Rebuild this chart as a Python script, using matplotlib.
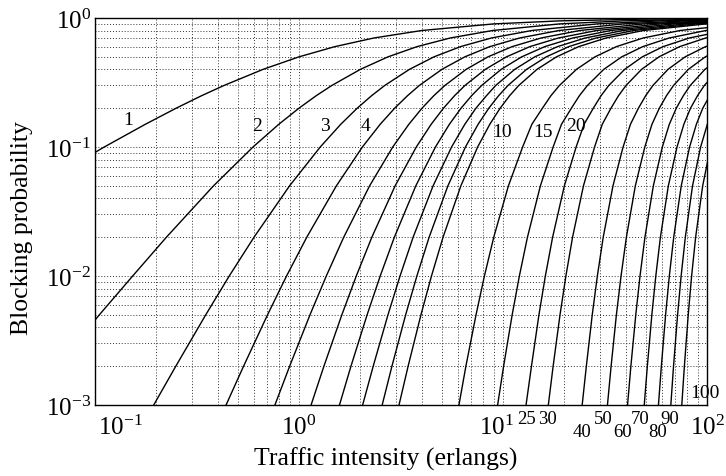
import matplotlib
matplotlib.use('Agg')
import matplotlib.pyplot as plt
import matplotlib.transforms as mtransforms
from matplotlib.ticker import NullFormatter

# Erlang-B chart: number of servers per curve
SERVERS = [1, 2, 3, 4, 5, 6, 7, 8, 9, 10, 15, 20, 25, 30, 40, 50, 60, 70, 80, 90, 100]

# blocking levels at which the traffic of each curve was read
BLOCKING = [0.001, 0.002, 0.005, 0.01, 0.02, 0.05, 0.1, 0.15, 0.2, 0.25, 0.3,
            0.4, 0.5, 0.6, 0.7, 0.8, 0.9, 0.95, 0.98, 0.99, 0.995]

# traffic intensity (erlangs) of each curve at the blocking levels above
TRAFFIC = [
    [0.001, 0.002, 0.00503, 0.0101, 0.0204, 0.0526, 0.111, 0.1765, 0.25, 0.3333,
     0.429, 0.667, 1.0, 1.5, 2.33, 4.0, 9.0, 19.0, 49.0, 99.0, 199.0],
    [0.0458, 0.0654, 0.105, 0.153, 0.224, 0.381, 0.595, 0.796, 1.0, 1.215,
     1.449, 2.0, 2.732, 3.791, 5.513, 8.899, 18.95, 38.97, 98.0, 199.0],
    [0.194, 0.249, 0.349, 0.455, 0.602, 0.899, 1.271, 1.602, 1.930, 2.27,
     2.633, 3.48, 4.59, 6.19, 8.78, 13.86, 28.9, 58.95, 149.0],
    [0.439, 0.535, 0.701, 0.869, 1.092, 1.525, 2.045, 2.50, 2.945, 3.405,
     3.89, 5.02, 6.50, 8.62, 12.07, 18.82, 38.9, 78.9, 199.0],
    [0.762, 0.900, 1.132, 1.361, 1.657, 2.219, 2.881, 3.455, 4.010, 4.582,
     5.19, 6.60, 8.44, 11.09, 15.38, 23.81, 48.91, 98.95, 248.0],
    [1.146, 1.325, 1.622, 1.909, 2.276, 2.960, 3.758, 4.445, 5.109, 5.79,
     6.51, 8.19, 10.4, 13.55, 18.7, 28.81, 58.91, 118.95],
    [1.579, 1.798, 2.157, 2.501, 2.935, 3.738, 4.666, 5.46, 6.230, 7.018,
     7.86, 9.80, 12.35, 16.03, 22.0, 33.81, 68.91, 138.9],
    [2.051, 2.311, 2.730, 3.128, 3.627, 4.543, 5.597, 6.498, 7.369, 8.30,
     9.21, 11.42, 14.32, 18.5, 25.3, 38.80, 78.91, 158.9],
    [2.557, 2.855, 3.333, 3.783, 4.345, 5.370, 6.546, 7.551, 8.522, 9.52,
     10.58, 13.05, 16.3, 21.0, 28.6, 43.80, 88.91, 178.9],
    [3.092, 3.427, 3.961, 4.461, 5.084, 6.216, 7.511, 8.616, 9.685, 10.78,
     11.95, 14.68, 18.3, 23.5, 32.0, 48.8, 98.9, 198.9],
    [6.083, 6.578, 7.376, 8.108, 9.010, 10.63, 12.48, 13.85, 15.61, 17.18,
     18.91, 22.92, 28.25, 35.97, 48.65, 73.79, 148.9],
    [9.411, 10.07, 11.09, 12.03, 13.18, 15.25, 17.61, 19.35, 21.64, 23.69,
     25.94, 31.20, 38.21, 48.45, 65.31, 98.78, 198.9],
    [12.97, 13.79, 15.00, 16.13, 17.51, 19.99, 22.83, 24.97, 27.72, 30.25,
     33.01, 39.49, 48.19, 60.94, 81.96, 123.8],
    [16.68, 17.61, 19.03, 20.34, 21.93, 24.80, 28.11, 30.66, 33.84, 36.84,
     40.10, 47.80, 58.17, 73.43, 98.63, 148.8],
    [24.44, 25.62, 27.38, 29.01, 31.00, 34.60, 38.79, 42.15, 46.12, 50.06,
     54.31, 64.42, 78.15, 98.42, 131.9],
    [32.51, 33.88, 35.96, 37.90, 40.26, 44.53, 49.56, 53.73, 58.40, 63.31,
     68.54, 81.06, 98.13, 123.4],
    [40.79, 42.35, 44.76, 46.95, 49.64, 54.57, 60.40, 65.36, 70.71, 76.59,
     82.79, 97.71, 118.1],
    [49.25, 51.00, 53.66, 56.11, 59.11, 64.64, 71.29, 77.02, 83.04, 89.88,
     97.04, 114.4],
    [57.81, 59.74, 62.67, 65.36, 68.69, 74.78, 82.16, 88.69, 95.36, 103.2, 111.3],
    [66.48, 68.54, 71.75, 74.68, 78.31, 84.93, 93.06, 100.4, 107.7],
    [75.24, 77.47, 80.91, 84.06, 87.97, 95.24, 104.1],
]

# curve labels inside the plot (text, traffic, blocking)
INNER_LABELS = [('1', 0.145, 0.162), ('2', 0.62, 0.146), ('3', 1.34, 0.146),
                ('4', 2.13, 0.146), ('10', 9.9, 0.131), ('15', 15.7, 0.131),
                ('20', 22.8, 0.148), ('100', 97.7, 0.00126)]
# curve labels under the x axis (text, traffic, row)
OUTER_LABELS = [('25', 13.1, 0), ('30', 16.6, 0), ('40', 24.4, 1), ('50', 30.9, 0),
                ('60', 38.6, 1), ('70', 46.9, 0), ('80', 57.0, 1), ('90', 66.0, 0)]

plt.rcParams['font.family'] = 'Liberation Serif'
plt.rcParams['mathtext.fontset'] = 'stix'

fig = plt.figure(figsize=(7.26, 4.77), dpi=100, facecolor='white')
ax = fig.add_axes([95 / 726, 1 - 406 / 477, 612 / 726, 387 / 477])

for row in TRAFFIC:
    ax.plot(row, BLOCKING[:len(row)], color='black', lw=1.0,
            solid_joinstyle='round', zorder=3)

ax.set_xscale('log')
ax.set_yscale('log')
ax.set_xlim(0.1, 100)
ax.set_ylim(1e-3, 1)
ax.set_xticks([0.1, 1, 10, 100])
ax.set_yticks([1e-3, 1e-2, 1e-1, 1])
ax.xaxis.set_minor_formatter(NullFormatter())
ax.yaxis.set_minor_formatter(NullFormatter())
ax.grid(which='both', color='#333333', linestyle=(0, (1, 2)), linewidth=0.7, zorder=1)
ax.tick_params(which='both', length=0)
ax.tick_params(axis='x', labelsize=18, pad=7)
ax.tick_params(axis='y', labelsize=18, pad=3)
for s in ax.spines.values():
    s.set_linewidth(1.0)
    s.set_color('black')

# first x tick label sits right of the corner
t0 = ax.xaxis.get_major_ticks()[0]
t0.label1.set_transform(t0.label1.get_transform() +
                        mtransforms.ScaledTranslation(18 / 72, 0, fig.dpi_scale_trans))
t1 = ax.xaxis.get_major_ticks()[2]
t1.label1.set_transform(t1.label1.get_transform() +
                        mtransforms.ScaledTranslation(-5 / 72, 0, fig.dpi_scale_trans))

ax.set_xlabel('Traffic intensity (erlangs)', fontsize=18.5)
ax.set_ylabel('Blocking probability', fontsize=18.5)
ax.xaxis.set_label_coords(0.4755, -0.1085)
ax.yaxis.set_label_coords(-0.101, 0.459)

for txt, x, y in INNER_LABELS:
    ax.text(x, y, txt, fontsize=14, ha='center', va='center', zorder=4, clip_on=False)

blend = mtransforms.blended_transform_factory(ax.transData, ax.transAxes)
for txt, x, r in OUTER_LABELS:
    ax.text(x, -0.0336 - 0.035 * r, txt, transform=blend, fontsize=13.5,
            ha='center', va='center', clip_on=False)

fig.savefig('out.png', dpi=100, facecolor='white')
